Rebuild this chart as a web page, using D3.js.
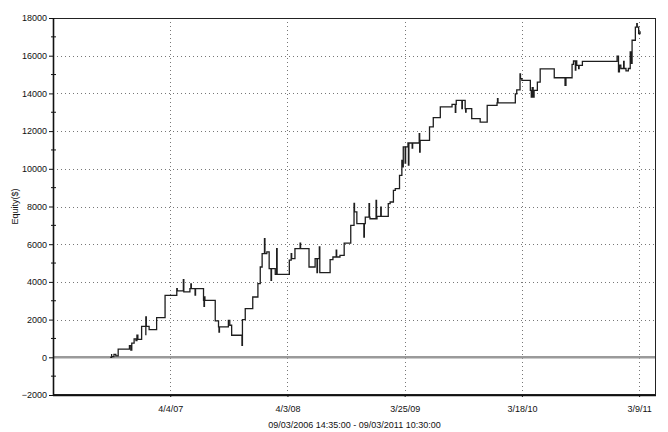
<!DOCTYPE html>
<html><head><meta charset="utf-8">
<script src="https://cdn.jsdelivr.net/npm/d3@7"></script>
<style>body{margin:0;background:#fff}svg{display:block}</style>
</head><body>
<script>
// bar index of each equity change (repeated index = intrabar spike)
const bars = [122,125,125,130,134,139,163,166,168,173,177,179,181,
189,198,198,199,205,221,239,264,265,278,279,292,294,295,303,304,
321,322,323,324,346,353,354,355,374,377,381,403,404,410,426,437,442,446,451,452,456,461,465,466,474,477,478,
504,508,509,516,527,528,546,559,563,564,568,569,
591,597,604,605,612,621,635,642,643,648,663,664,666,674,675,676,689,690,691,699,700,
715,719,726,730,739,744,746,747,751,752,757,758,759,766,767,781,782,783,
803,811,826,851,858,859,860,872,873,879,880,881,893,911,926,947,948,949,
986,989,996,997,1000,1018,1020,1022,1024,1026,1033,1039,1069,1092,1094,1107,1110,1114,1115,1117,1121,1122,1129,
1203,1206,1208,1211,1217,1218,1222,1227,1231,1233,1235,1242,1245,1246,1249,1252];
const equity = [0,180,40,160,80,430,620,380,750,980,880,1180,950,
1640,1170,2140,1640,1470,2100,3290,3640,3520,4120,3470,3640,3900,3640,3300,3640,
3020,2700,3200,3020,1930,1610,1340,1610,1960,1700,1170,640,2000,2580,3200,3910,4790,5500,6300,5500,5590,4700,4080,4700,4400,5770,4400,
5150,5500,5230,5770,6060,5770,4790,5230,4500,5230,5860,4490,
5180,5320,5680,5320,5410,6060,7000,8170,7710,7090,6380,7090,7440,8150,7440,7350,8330,7350,7480,7970,7480,
8150,8240,8860,8950,9650,10450,10100,11160,10300,11160,11370,10190,11370,11100,11370,11870,10890,11510,
12220,12720,13280,13420,13000,13420,13630,13200,13630,13190,13010,13190,12660,12480,13370,13500,13720,13500,
13980,14190,15040,14780,14690,14160,13810,14300,13810,14160,14600,15300,14830,14430,14830,15540,15720,15230,15720,15490,15320,15490,15700,
15970,15140,15500,15320,15700,15320,15200,15320,16200,15600,16820,17520,17700,17520,17170,17300];

const xTickBars = [250, 500, 750, 1000, 1250];
const xTickLabels = ["4/4/07", "4/3/08", "3/25/09", "3/18/10", "3/9/11"];
const yTicks = [-2000, 0, 2000, 4000, 6000, 8000, 10000, 12000, 14000, 16000, 18000];
const yMinorTicks = [-1000, 1000, 3000, 5000, 7000, 9000, 11000, 13000, 15000, 17000];
const xDomain = [0, 1286];
const yDomain = [-2000, 18000];
const yTitle = "Equity($)";
const caption = "09/03/2006 14:35:00 - 09/03/2011 10:30:00";

const W = 668, H = 432;
const L = 53, R = 656, T = 18, B = 395;
const font = "'Liberation Sans', Arial, sans-serif";

const svg = d3.select("body").append("svg").attr("width", W).attr("height", H);
const x = d3.scaleLinear().domain(xDomain).range([L, R]);
const y = d3.scaleLinear().domain(yDomain).range([B, T]);

// horizontal dotted grid
svg.append("g").selectAll("line").data(yTicks.filter(v => v > yDomain[0] && v < yDomain[1] && v !== 0))
  .join("line").attr("x1", L).attr("x2", R)
  .attr("y1", d => Math.round(y(d)) + 0.5).attr("y2", d => Math.round(y(d)) + 0.5)
  .attr("stroke", "#777").attr("stroke-width", 1).attr("stroke-dasharray", "1,3");
// vertical dotted grid
svg.append("g").selectAll("line").data(xTickBars)
  .join("line").attr("y1", T).attr("y2", B)
  .attr("x1", d => Math.round(x(d)) + 0.5).attr("x2", d => Math.round(x(d)) + 0.5)
  .attr("stroke", "#777").attr("stroke-width", 1).attr("stroke-dasharray", "1,3");

// zero line
svg.append("line").attr("x1", L).attr("x2", R).attr("y1", y(0)).attr("y2", y(0))
  .attr("stroke", "#9a9a9a").attr("stroke-width", 2.5);

// equity line
const pts = bars.map((b, i) => [b, equity[i]]);
svg.append("path").datum(pts)
  .attr("d", d3.line().x(d => x(d[0])).y(d => y(d[1])).curve(d3.curveStepAfter))
  .attr("fill", "none").attr("stroke", "#1e1e1e").attr("stroke-width", 1.3);

// frame
svg.append("rect").attr("x", L + 0.5).attr("y", T + 0.5).attr("width", R - L - 1).attr("height", B - T - 1)
  .attr("fill", "none").attr("stroke", "#222").attr("stroke-width", 1);
svg.append("line").attr("x1", L + 0.5).attr("x2", L + 0.5).attr("y1", T).attr("y2", B + 1)
  .attr("stroke", "#111").attr("stroke-width", 1.6);
svg.append("line").attr("x1", L).attr("x2", R).attr("y1", B + 0.5).attr("y2", B + 0.5)
  .attr("stroke", "#111").attr("stroke-width", 1.6);

// y axis
const yAxis = d3.axisLeft(y).tickValues(yTicks).tickSize(4).tickPadding(2).tickFormat(d3.format("d"));
const gy = svg.append("g").attr("transform", `translate(${L},0)`).call(yAxis);
gy.select(".domain").remove();
gy.selectAll("line").attr("stroke", "#111");
gy.selectAll("text").attr("font-family", font).attr("font-size", 9).attr("fill", "#111");
svg.append("g").selectAll("line").data(yMinorTicks).join("line")
  .attr("x1", L - 2).attr("x2", L + 3).attr("y1", d => y(d)).attr("y2", d => y(d))
  .attr("stroke", "#111").attr("stroke-width", 1);

// x axis
const xAxis = d3.axisBottom(x).tickValues(xTickBars).tickSize(2).tickPadding(9)
  .tickFormat((d, i) => xTickLabels[i]);
const gx = svg.append("g").attr("transform", `translate(0,${B})`).call(xAxis);
gx.select(".domain").remove();
gx.selectAll("line").attr("stroke", "#111");
gx.selectAll("text").attr("font-family", font).attr("font-size", 9).attr("fill", "#111");

// titles
svg.append("text").attr("transform", `translate(18,${(T + B) / 2}) rotate(-90)`)
  .attr("text-anchor", "middle").attr("font-family", font).attr("font-size", 9).attr("fill", "#111").text(yTitle);
svg.append("text").attr("x", (L + R) / 2).attr("y", 428)
  .attr("text-anchor", "middle").attr("font-family", font).attr("font-size", 9).attr("fill", "#111").text(caption);
</script>
</body></html>
